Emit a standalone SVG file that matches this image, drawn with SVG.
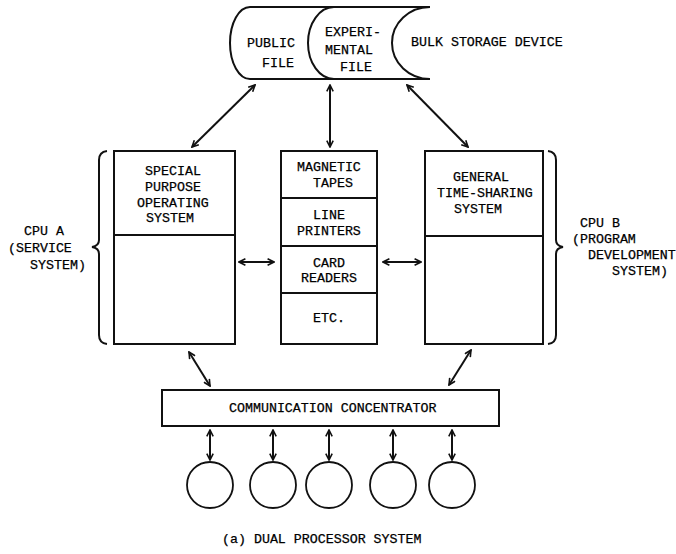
<svg xmlns="http://www.w3.org/2000/svg" width="676" height="554" viewBox="0 0 676 554">
<defs>
<style>
.t{font-family:"Liberation Mono","DejaVu Sans Mono",monospace;font-size:13.3px;fill:#000;stroke:#000;stroke-width:0.25}
.s{fill:none;stroke:#111;stroke-width:2}
.c{fill:none;stroke:#111;stroke-width:1.8}
</style>
<marker id="ah" viewBox="0 0 10 10" refX="9" refY="5" markerWidth="8" markerHeight="8" markerUnits="userSpaceOnUse" orient="auto-start-reverse">
<path d="M1,1 L9,5 L1,9" fill="none" stroke="#111" stroke-width="2"/>
</marker>
</defs>
<rect width="676" height="554" fill="#fff"/>

<g id="storage">
<path class="s" d="M250,7 L430,7 M250,79 L430,79 M250,7 A20,36 0 0 0 250,79 M334,7 A26,36 0 0 0 334,79 M430,7 A38,36 0 0 0 430,79"/>
<text class="t" x="247" y="47">PUBLIC</text>
<text class="t" x="262" y="67">FILE</text>
<text class="t" x="325" y="36">EXPERI-</text>
<text class="t" x="325" y="54">MENTAL</text>
<text class="t" x="340" y="71">FILE</text>
<text class="t" x="411" y="46">BULK STORAGE DEVICE</text>
</g>

<g id="cpuA">
<rect class="s" x="114" y="151" width="121" height="193"/>
<line class="s" x1="114" y1="235" x2="235" y2="235"/>
<text class="t" x="145" y="175">SPECIAL</text>
<text class="t" x="145" y="191">PURPOSE</text>
<text class="t" x="137" y="207">OPERATING</text>
<text class="t" x="146" y="222">SYSTEM</text>
<path class="s" d="M107,151 Q99,152 99,160 L99,240 Q99,246 92,247 Q99,248 99,254 L99,335 Q99,343 107,344"/>
<text class="t" x="24" y="235">CPU A</text>
<text class="t" x="8" y="252">(SERVICE</text>
<text class="t" x="30" y="269">SYSTEM)</text>
</g>

<g id="devices">
<rect class="s" x="281" y="151" width="96" height="193"/>
<line class="s" x1="281" y1="198" x2="377" y2="198"/>
<line class="s" x1="281" y1="246" x2="377" y2="246"/>
<line class="s" x1="281" y1="293" x2="377" y2="293"/>
<text class="t" x="297" y="171">MAGNETIC</text>
<text class="t" x="313" y="187">TAPES</text>
<text class="t" x="313" y="219">LINE</text>
<text class="t" x="297" y="235">PRINTERS</text>
<text class="t" x="313" y="267">CARD</text>
<text class="t" x="301" y="282">READERS</text>
<text class="t" x="313" y="322">ETC.</text>
</g>

<g id="cpuB">
<rect class="s" x="425" y="151" width="118" height="193"/>
<line class="s" x1="425" y1="236" x2="543" y2="236"/>
<text class="t" x="453" y="181">GENERAL</text>
<text class="t" x="437" y="197">TIME-SHARING</text>
<text class="t" x="454" y="213">SYSTEM</text>
<path class="s" d="M548,151 Q556,152 556,160 L556,240 Q556,246 563,247 Q556,248 556,254 L556,335 Q556,343 548,344"/>
<text class="t" x="580" y="227">CPU B</text>
<text class="t" x="572" y="243">(PROGRAM</text>
<text class="t" x="588" y="259">DEVELOPMENT</text>
<text class="t" x="612" y="275">SYSTEM)</text>
</g>

<g id="concentrator">
<rect class="s" x="162" y="390" width="337" height="36"/>
<text class="t" x="229" y="412">COMMUNICATION CONCENTRATOR</text>
</g>

<g id="terminals">
<circle id="term1" class="c" cx="210" cy="485" r="23"/>
<circle id="term2" class="c" cx="273" cy="485" r="23"/>
<circle id="term3" class="c" cx="329" cy="485" r="23"/>
<circle id="term4" class="c" cx="393" cy="485" r="23"/>
<circle id="term5" class="c" cx="452" cy="485" r="23"/>
</g>

<g id="connectors" class="s" marker-start="url(#ah)" marker-end="url(#ah)">
<line x1="255" y1="85" x2="192" y2="147"/>
<line x1="330" y1="85" x2="330" y2="147"/>
<line x1="407" y1="85" x2="468" y2="147"/>
<line x1="239" y1="262" x2="274" y2="262"/>
<line x1="383" y1="262" x2="421" y2="262"/>
<line x1="189" y1="352" x2="210" y2="386"/>
<line x1="471" y1="350" x2="449" y2="385"/>
<line x1="210" y1="430" x2="210" y2="460"/>
<line x1="273" y1="430" x2="273" y2="460"/>
<line x1="329" y1="430" x2="329" y2="460"/>
<line x1="393" y1="430" x2="393" y2="460"/>
<line x1="452" y1="430" x2="452" y2="460"/>
</g>

<text class="t" x="222" y="543">(a)  DUAL PROCESSOR SYSTEM</text>
</svg>
